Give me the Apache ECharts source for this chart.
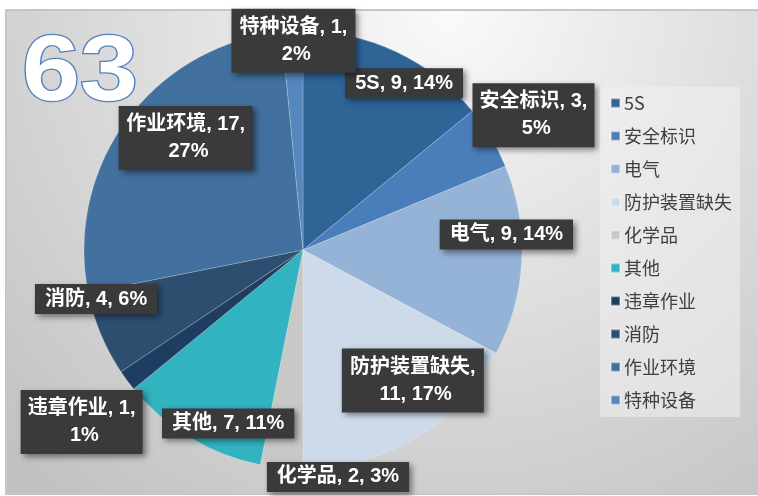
<!DOCTYPE html>
<html>
<head>
<meta charset="utf-8">
<script src="https://cdn.jsdelivr.net/npm/echarts@6/dist/echarts.min.js"></script>
<style>
  html, body { margin: 0; padding: 0; background: #fff; }
  #chart { width: 758px; height: 496px; }
</style>
</head>
<body>
<div id="chart"></div>
<script>
// 数据
const categories = ['5S', '安全标识', '电气', '防护装置缺失', '化学品', '其他', '违章作业', '消防', '作业环境', '特种设备'];
const counts = [9, 3, 9, 11, 2, 7, 1, 4, 17, 1];
const percents = [14, 5, 14, 17, 3, 11, 1, 6, 27, 2];
const totalLabel = '63';

const colors = ['#2f6497', '#4a7ebb', '#95b3d7', '#ccdaea', '#c8c8c8', '#31b3c0', '#1f3d60', '#2e4e70', '#42709f', '#5487bd'];

// 标签相对扇区内部位置的偏移, 换行标签的宽度
const labelOffsets = [[53, -65], [134, -77], [91, -21], [52, 34], [46, 115], [-17, 77], [-131, 105], [-103, 6], [-27, -45], [-4, -97]];
const labelWidths = [null, 110, null, 130, null, null, 110, null, 122, 112];

const myChart = echarts.init(document.getElementById('chart'));

const pieData = categories.map((name, i) => {
  const label = { offset: labelOffsets[i] };
  if (labelWidths[i]) {
    label.width = labelWidths[i];
    label.overflow = 'break';
    label.lineHeight = 27;
    label.padding = [5, 6];
  }
  return { name: name, value: counts[i], label: label };
});

const option = {
  color: colors,
  animation: false,
  graphic: [
    {
      type: 'rect',
      z: -10,
      silent: true,
      shape: { x: 6, y: 10, width: 760, height: 484 },
      style: {
        fill: {
          type: 'radial', x: 450, y: 10, r: 620, global: true,
          colorStops: [
            { offset: 0, color: '#fafafa' },
            { offset: 0.45, color: '#e0e0e0' },
            { offset: 1, color: '#c2c2c2' }
          ]
        },
        stroke: '#c6c6c6',
        lineWidth: 2
      }
    },
    {
      // 总数
      type: 'text',
      z: 10,
      silent: true,
      x: 22,
      y: 28,
      scaleX: 1.12,
      style: {
        text: totalLabel,
        font: 'bold 93px "Liberation Sans", Arial, sans-serif',
        fill: '#ffffff',
        stroke: '#4f81bd',
        lineWidth: 2.5,
        verticalAlign: 'top',
        shadowColor: '#4f81bd',
        shadowOffsetX: 4,
        shadowOffsetY: 4,
        shadowBlur: 0
      }
    }
  ],
  legend: {
    orient: 'vertical',
    left: 600,
    top: 87,
    padding: [6, 8, 7, 10],
    backgroundColor: 'rgba(240,240,240,0.55)',
    itemWidth: 9,
    itemHeight: 9,
    itemGap: 13,
    icon: 'rect',
    textStyle: {
      fontFamily: 'Noto Sans CJK SC, sans-serif',
      fontSize: 18,
      lineHeight: 20,
      color: '#404040',
      padding: [0, 0, 0, -1]
    },
    data: categories
  },
  series: [
    {
      name: '问题类别',
      type: 'pie',
      center: [303, 250],
      radius: 219,
      startAngle: 90,
      clockwise: true,
      itemStyle: {
        borderColor: 'rgba(255,255,255,0.35)',
        borderWidth: 0.6
      },
      label: {
        show: true,
        position: 'inside',
        formatter: p => `${p.name}, ${p.value}, ${percents[p.dataIndex]}%`,
        fontFamily: 'Liberation Sans, Noto Sans CJK SC, sans-serif',
        fontSize: 20,
        fontWeight: 'bold',
        color: '#ffffff',
        align: 'center',
        lineHeight: 22,
        padding: [4, 10],
        backgroundColor: '#3a3a3a',
        shadowColor: 'rgba(0,0,0,0.45)',
        shadowBlur: 6,
        shadowOffsetX: 3,
        shadowOffsetY: 3
      },
      labelLayout: { hideOverlap: false },
      labelLine: { show: false },
      emphasis: { disabled: true },
      data: pieData
    }
  ]
};

option && myChart.setOption(option);

window.addEventListener('resize', () => {
  myChart.resize();
});
</script>
</body>
</html>
